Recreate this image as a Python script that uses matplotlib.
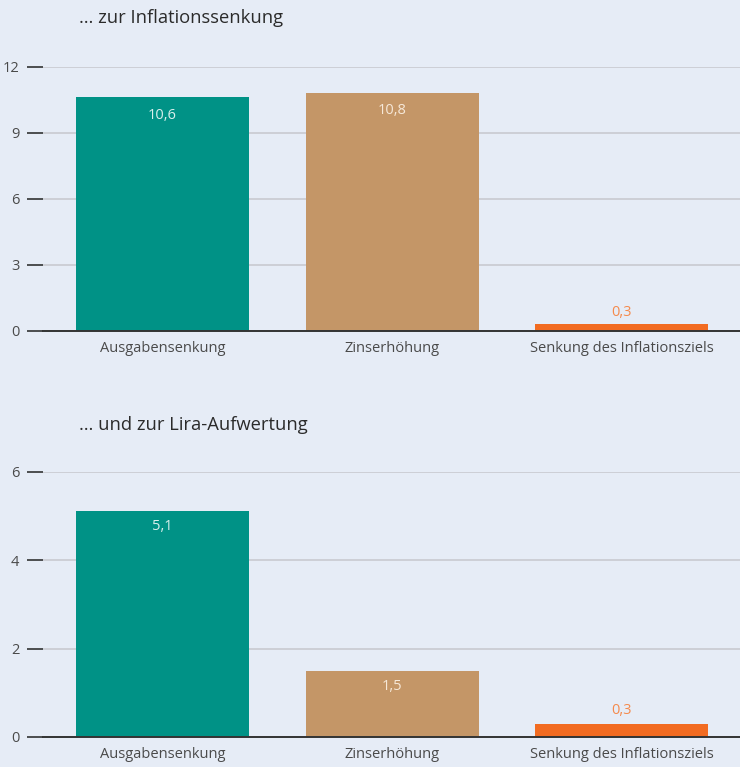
import matplotlib
matplotlib.use("Agg")
import matplotlib.pyplot as plt

categories = ["Ausgabensenkung", "Zinserhöhung", "Senkung des Inflationsziels"]
inflation_values = [10.6, 10.8, 0.3]
lira_values = [5.1, 1.5, 0.3]
titles = ["… zur Inflationssenkung", "… und zur Lira-Aufwertung"]
yticks_top = [0, 3, 6, 9, 12]
yticks_bottom = [0, 2, 4, 6]
value_labels_top = ["10,6", "10,8", "0,3"]
value_labels_bottom = ["5,1", "1,5", "0,3"]

bar_colors = ["#009286", "#c49667", "#f26b21"]
label_inside_colors = ["#d8efec", "#f6e8d8", None]
outside_color = "#f58a4c"
bg = "#e6ecf6"

plt.rcParams['font.family'] = ['Open Sans', 'DejaVu Sans']

fig = plt.figure(figsize=(7.4, 7.67), dpi=100)
fig.patch.set_facecolor(bg)

W, H = 740, 767
def ax_rect(top_px, bottom_px):
    left = 43 / W
    width = 697 / W
    return [left, 1 - bottom_px / H, width, (bottom_px - top_px) / H]

panels = [
    (ax_rect(66.5, 331), inflation_values, yticks_top, value_labels_top, 12, 18, 18, 12),
    (ax_rect(471.5, 737), lira_values, yticks_bottom, value_labels_bottom, 6, 425, 15.5, 13),
]

for (rect, vals, ticks, vlabels, ymax, title_y, inside_off, outside_off), title in zip(panels, titles):
    ax = fig.add_axes(rect)
    ax.set_facecolor(bg)
    x = list(range(len(categories)))
    ax.bar(x, vals, width=0.754, color=bar_colors, zorder=3)
    ax.set_xlim(-0.521, 2.516)
    ax.set_ylim(0, ymax)
    ax.set_yticks(ticks)
    ax.set_yticklabels([str(t) for t in ticks])
    ax.set_xticks(x)
    ax.set_xticklabels(categories)
    ax.grid(axis='y', color='#c9cad0', linewidth=1.2, zorder=0)
    ax.set_axisbelow(True)
    for s in ['top', 'right', 'left']:
        ax.spines[s].set_visible(False)
    ax.spines['bottom'].set_color('#333333')
    ax.spines['bottom'].set_linewidth(1.4)
    ax.spines['bottom'].set_zorder(4)
    ax.tick_params(axis='y', length=11.5, width=1.1, color='#222222', pad=5.5,
                   labelsize=10.5, labelcolor='#4a4a4a')
    ax.tick_params(axis='x', length=0, pad=7, labelsize=10.5, labelcolor='#4a4a4a')
    for i, (v, lab) in enumerate(zip(vals, vlabels)):
        col = label_inside_colors[i]
        if col is not None:
            ax.annotate(lab, (i, v), xytext=(0, -inside_off), textcoords='offset pixels',
                        ha='center', va='center', fontsize=10.5, color=col, zorder=5)
        else:
            ax.annotate(lab, (i, v), xytext=(0, outside_off), textcoords='offset pixels',
                        ha='center', va='center', fontsize=10.5, color=outside_color, zorder=5)
    fig.text(79 / W, 1 - title_y / H, title, ha='left', va='center', fontsize=13.2, color='#2b2b2b')

fig.savefig("out.png", dpi=100, facecolor=bg)
